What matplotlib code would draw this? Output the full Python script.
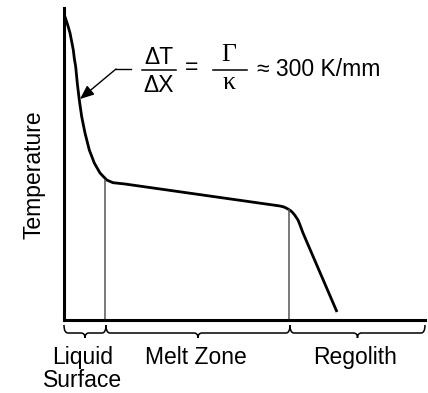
import numpy as np
import matplotlib
matplotlib.use("Agg")
import matplotlib.pyplot as plt
from matplotlib.path import Path
from matplotlib.patches import PathPatch

plt.rcParams['font.family'] = ['Liberation Sans', 'DejaVu Sans']

# Temperature profile (arbitrary units: x = depth, y = temperature)
depth = [1, 3.7, 6, 7.7, 9.3, 10.3, 11.7, 13.3, 15.3, 17.7, 21, 25.3, 30.3, 36, 42.7, 49, 61,
         216, 220, 224, 227, 229, 231, 234, 236, 239, 273]
temperature = [303.3, 295, 287, 278.3, 270, 261.7, 253.3, 236.7, 220, 203.3, 187, 170, 157,
               147, 140, 137.3, 136, 114, 113, 111, 109, 107, 104.5, 100, 95, 87, 8]

# zone boundaries (x) and the temperature where the boundary meets the curve
zone_edges = [0, 42, 226, 361]
boundary_x = [41, 225]
boundary_top = [140, 110]
zone_labels = ["Liquid\nSurface", "Melt Zone", "Regolith"]
label_x = [19, 132, 291]

FS = 16.5
W, H = 428, 393
fig = plt.figure(figsize=(W / 100, H / 100), dpi=100)
ax = fig.add_axes([64 / W, (H - 320) / H, (425 - 64) / W, (320 - 8) / H])
ax.set_xlim(0, 361)
ax.set_ylim(0, 312)
for s in ['top', 'right']:
    ax.spines[s].set_visible(False)
for s in ['left', 'bottom']:
    ax.spines[s].set_linewidth(2.2)
ax.set_xticks([])
ax.set_yticks([])

ax.plot(depth, temperature, color='black', lw=2.0, solid_capstyle='butt',
        solid_joinstyle='round', clip_on=False)

for bx, bt in zip(boundary_x, boundary_top):
    ax.plot([bx, bx], [0, bt], color='#555555', lw=1.1)

# braces
y_top, y_flat, y_tip = -5, -13, -18
r = 4
for a, b in zip(zone_edges[:-1], zone_edges[1:]):
    m = (a + b) / 2
    verts = [(a, y_top), (a, y_flat), (a + r, y_flat),
             (m - r, y_flat), (m, y_flat), (m, y_tip),
             (m, y_flat), (m + r, y_flat),
             (b - r, y_flat), (b, y_flat), (b, y_top)]
    codes = [Path.MOVETO, Path.CURVE3, Path.CURVE3,
             Path.LINETO, Path.CURVE3, Path.CURVE3,
             Path.CURVE3, Path.CURVE3,
             Path.LINETO, Path.CURVE3, Path.CURVE3]
    ax.add_patch(PathPatch(Path(verts, codes), fill=False, lw=1.1,
                           edgecolor='black', clip_on=False))

first, second = zone_labels[0].split("\n")
ax.text(label_x[0], -44, first, ha='center', va='baseline', fontsize=FS)
ax.text(label_x[0], -67, second, ha='center', va='baseline', fontsize=FS)
ax.text(label_x[1], -44, zone_labels[1], ha='center', va='baseline', fontsize=FS)
ax.text(label_x[2], -44, zone_labels[2], ha='center', va='baseline', fontsize=FS)

ax.text(-30, 145, "Temperature", rotation=90, ha='center', va='center', fontsize=FS)

# equation
ax.text(95, 263, "\u0394T", ha='center', va='center', fontsize=FS)
ax.text(95, 234, "\u0394X", ha='center', va='center', fontsize=FS)
ax.plot([78, 112], [250, 250], color='black', lw=1.1, clip_on=False)
ax.text(128, 252, "=", ha='center', va='center', fontsize=FS)
serif = ['Liberation Serif', 'DejaVu Serif']
ax.text(165, 265, "\u0393", ha='center', va='center', fontsize=18.5, family=serif)
ax.text(165, 237, "\u03ba", ha='center', va='center', fontsize=18.5, family=serif)
ax.plot([149, 183], [250, 250], color='black', lw=1.1, clip_on=False)
ax.text(193, 251, "\u2248 300 K/mm", ha='left', va='center', fontsize=FS)

ax.plot([52, 67], [251, 251], color='black', lw=1.0)
ax.annotate("", xy=(16, 221), xytext=(52, 251),
            arrowprops=dict(arrowstyle='-|>,head_length=0.6,head_width=0.25',
                            color='black', lw=1.0,
                            mutation_scale=14, shrinkA=0, shrinkB=0))

fig.savefig('out.png', dpi=100)
